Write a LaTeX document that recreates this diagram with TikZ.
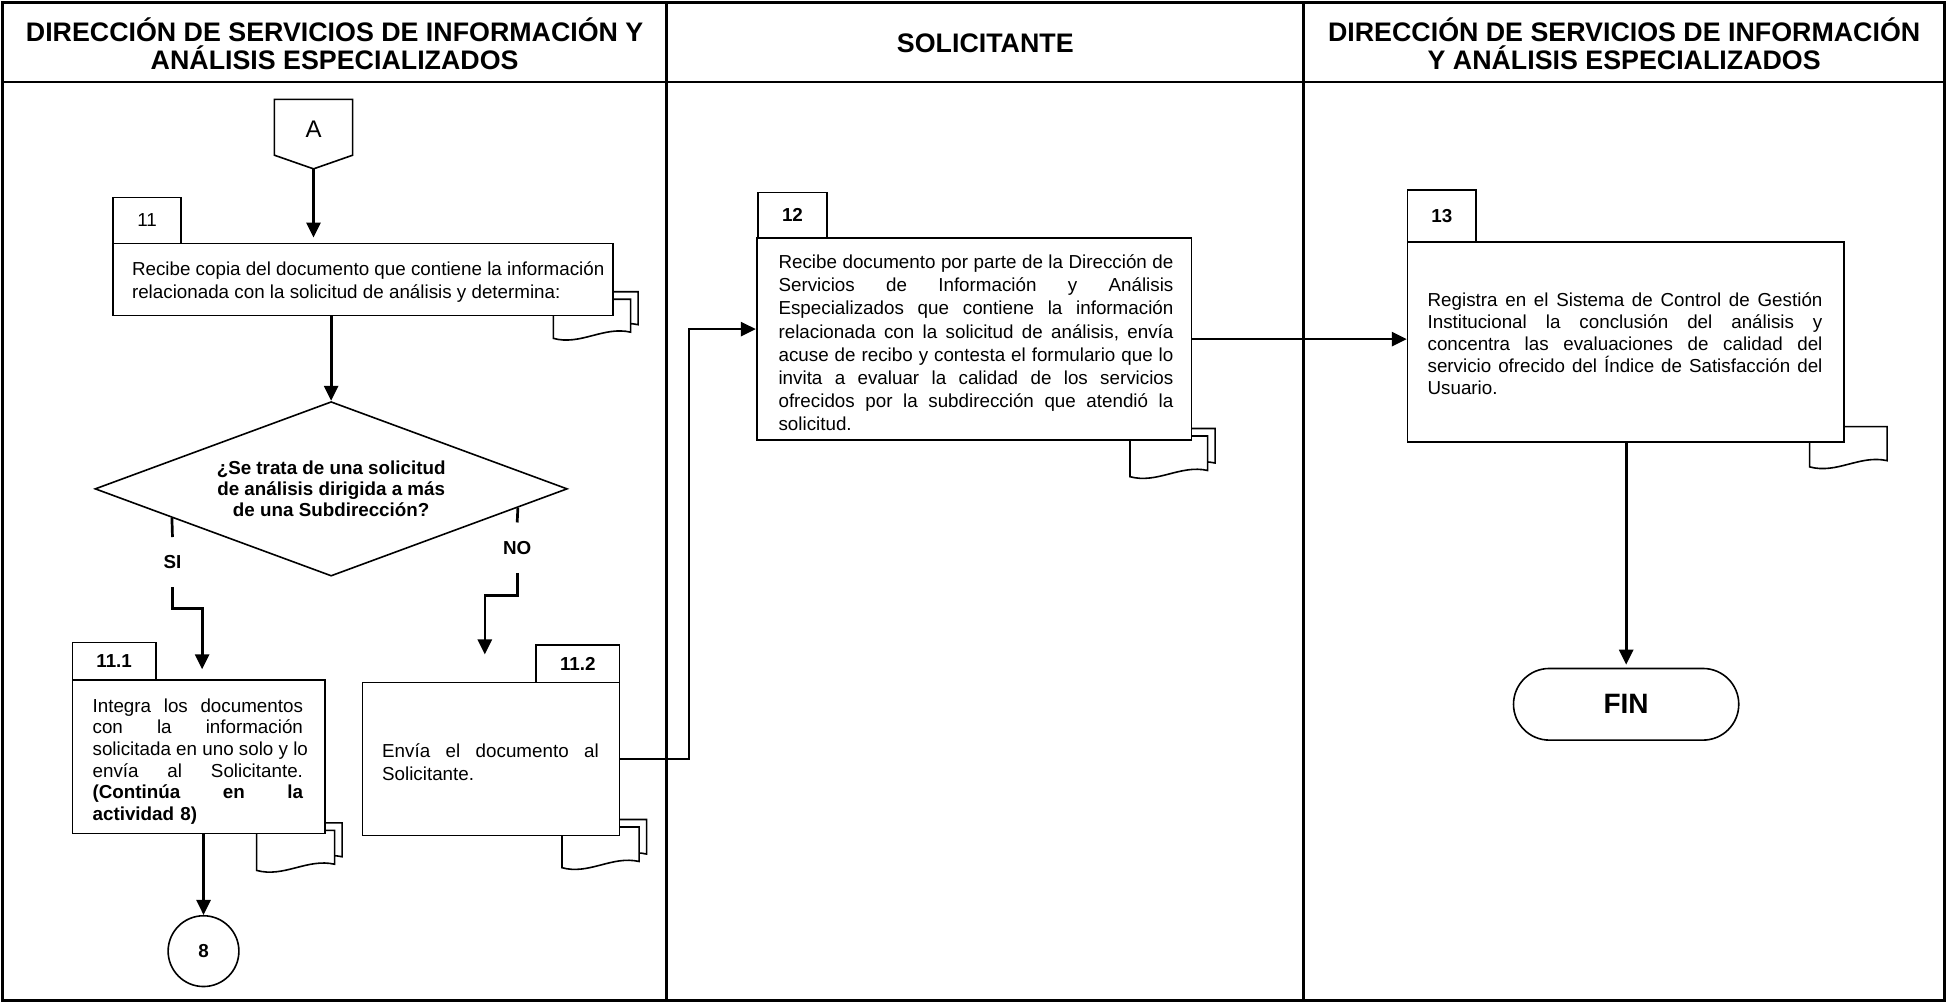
\documentclass[tikz,border=0pt]{standalone}
\usepackage{fontspec}
\setmainfont{Liberation Sans}
\usetikzlibrary{arrows.meta,shapes.geometric,calc}

% one drawing unit
\newcommand\pxu{0.62085pt}
\newcommand\bodysize{\fontsize{9.4}{11.3}\selectfont}
\newcommand\bodyat[1]{\fontsize{9.4}{#1}\selectfont}
\newcommand\hdrsize{\fontsize{13.4}{14.2}\selectfont}
% a justified line of fixed width: the word spaces take up the slack
\newcommand\jl[1]{\par\noindent\hbox to \hsize{\frenchspacing\spaceskip=0.278em plus 1fil\relax #1}\par}
% document sheet with a wavy lower edge: x, y, width, height
\newcommand\docsheet[4]{%
  \path[docline] ({#1},{#2}) -- ({#1+#3},{#2}) -- ({#1+#3},{#2+#4-5})
    .. controls ({#1+0.65*#3},{#2+#4-10}) and ({#1+0.35*#3},{#2+#4+6}) .. ({#1},{#2+#4}) -- cycle;}
% stack of two sheets: front x, y, width, height
\newcommand\docstack[4]{%
  \docsheet{#1+6}{#2-6}{#3}{#4}%
  \docsheet{#1}{#2}{#3}{#4}}

\begin{document}
\begin{tikzpicture}[x=\pxu,y=-\pxu,
  frameline/.style={line width=1.4pt},
  proc/.style={draw, fill=white, line width=0.8pt, inner sep=0pt},
  tabbox/.style={draw, fill=white, line width=0.8pt, inner sep=0pt, font=\bodysize},
  bodytxt/.style={inner sep=0pt, font=\bodysize},
  docline/.style={draw, fill=white, line width=0.8pt},
  conn/.style={line width=1.35pt},
  arr/.style={conn, -{Triangle[length=7.5pt,width=7pt]}},
  hdr/.style={font=\hdrsize\bfseries, align=center, inner sep=0pt},
  lbl/.style={inner sep=0pt, font=\bodysize\bfseries, minimum height=40*\pxu}
]
\useasboundingbox (0,0) rectangle (1568,808);

% swimlane frame
\draw[frameline] (2,2) rectangle (1566,806);
\draw[frameline] (2,66) -- (1566,66);
\draw[frameline] (537,2) -- (537,806);
\draw[frameline] (1050,2) -- (1050,806);

\node[hdr] (h1) at (269.5,35) {DIRECCIÓN DE SERVICIOS DE INFORMACIÓN Y\\ANÁLISIS ESPECIALIZADOS};
\node[hdr] (h2) at (793.5,35) {SOLICITANTE};
\node[hdr] (h3) at (1308,35) {DIRECCIÓN DE SERVICIOS DE INFORMACIÓN\\Y ANÁLISIS ESPECIALIZADOS};

% document symbols behind the activity boxes
\docstack{445.6}{241}{62.3}{31.5}
\docstack{910}{351.1}{62.6}{32.8}
\docsheet{1457.4}{343.6}{62.4}{32.4}
\docstack{206.7}{668.7}{62.8}{32.3}
\docstack{452.6}{666}{62.1}{32.8}

% off-page connector A
\path[proc] (221,80) -- (284,80) -- (284,125) -- (252.5,136) -- (221,125) -- cycle;
\coordinate (Atip) at (252.5,136);
\node[inner sep=0pt, font=\fontsize{12}{14}\selectfont] (Alabel) at (252.5,104) {A};

% activity 11
\node[tabbox, minimum width=55*\pxu, minimum height=37*\pxu] (t11) at (118.5,177.5) {11};
\node[proc, minimum width=402.7*\pxu, minimum height=58.2*\pxu] (b11) at (292.35,225.1) {};
\node[bodytxt, font=\bodyat{11.2pt}, anchor=west, align=left] (x11) at (106,227)
  {Recibe copia del documento que contiene la información\\relacionada con la solicitud de análisis y determina:};

% decision
\node[diamond, draw, fill=white, line width=0.8pt, aspect=2.707, minimum width=380.4*\pxu,
  minimum height=140.5*\pxu, inner sep=0pt, font=\fontsize{9.4}{10.6}\selectfont\bfseries, align=center]
  (dec) at (266.7,393.7) {¿Se trata de una solicitud\\de análisis dirigida a más\\de una Subdirección?};
\coordinate (siStart) at ($(dec.west)!0.328!(dec.south)$);
\coordinate (noStart) at ($(dec.east)!0.212!(dec.south)$);
\node[lbl] (si) at (138.9,452.8) {SI};
\node[lbl] (no) at (416.5,441.1) {NO};
\coordinate (siBend) at (138.9,490);
\coordinate (noBend) at (416.5,479.4);

% activity 11.1
\node[tabbox, font=\bodysize\bfseries, minimum width=67.2*\pxu, minimum height=30.4*\pxu] (t111) at (91.9,532.5) {11.1};
\node[proc, minimum width=203.2*\pxu, minimum height=123.7*\pxu] (b111) at (159.9,609.55) {};
\node[bodytxt, font=\bodyat{10.8pt}, text width=169.4*\pxu] (x111) at (159.3,610)
  {\jl{Integra los documentos}\jl{con la información}\jl{solicitada en uno solo y lo}\jl{envía al Solicitante.}\jl{\bfseries (Continúa en la}\noindent\textbf{actividad 8)}};

% activity 11.2
\node[tabbox, font=\bodysize\bfseries, minimum width=66.9*\pxu, minimum height=30.1*\pxu] (t112) at (465.35,534.55) {11.2};
\node[proc, minimum width=207*\pxu, minimum height=123.1*\pxu] (b112) at (395.3,611.15) {};
\node[bodytxt, font=\bodyat{11.2pt}, text width=174.5*\pxu] (x112) at (395,610.5)
  {\jl{Envía el documento al}\noindent Solicitante.};

% connector 8
\node[circle, draw, line width=0.8pt, minimum size=57*\pxu, inner sep=0pt, font=\bodysize\bfseries] (c8) at (163.9,766) {8};

% activity 12
\node[tabbox, font=\bodysize\bfseries, minimum width=55.2*\pxu, minimum height=36.8*\pxu] (t12) at (638.2,173.4) {12};
\node[proc, minimum width=350.3*\pxu, minimum height=162.6*\pxu] (b12) at (784.55,273.1) {};
\node[bodytxt, font=\bodyat{11.6pt}, text width=318*\pxu] (x12) at (786,272.3)
  {\jl{Recibe documento por parte de la Dirección de}\jl{Servicios de Información y Análisis}\jl{Especializados que contiene la información}\jl{relacionada con la solicitud de análisis, envía}\jl{acuse de recibo y contesta el formulario que lo}\jl{invita a evaluar la calidad de los servicios}\jl{ofrecidos por la subdirección que atendió la}\noindent solicitud.};

% activity 13
\node[tabbox, font=\bodysize\bfseries, minimum width=55*\pxu, minimum height=42*\pxu] (t13) at (1161.1,174) {13};
\node[proc, minimum width=351.2*\pxu, minimum height=160.8*\pxu] (b13) at (1309.2,275.4) {};
\node[bodytxt, font=\bodyat{10.9pt}, text width=318*\pxu] (x13) at (1308.7,273.5)
  {\jl{Registra en el Sistema de Control de Gestión}\jl{Institucional la conclusión del análisis y}\jl{concentra las evaluaciones de calidad del}\jl{servicio ofrecido del Índice de Satisfacción del}\noindent Usuario.};

% end
\node[draw, line width=0.8pt, rounded corners=17.9pt, minimum width=181.4*\pxu, minimum height=57.7*\pxu,
  inner sep=0pt, font=\fontsize{14}{16}\selectfont\bfseries] (fin) at (1309.6,567.2) {FIN};

% connectors
\draw[arr, shorten >=2.5pt] (Atip) -- (Atip |- b11.north);
\draw[arr] (dec.north |- b11.south) -- (dec.north);
\draw[conn] (siStart) -- (si.north);
\draw[arr, shorten >=5pt] (si.south) -- (siBend) -| ([xshift=1.8pt]b111.north);
\draw[conn] (noStart) -- (no.north);
\draw[arr, shorten >=13.6pt] (no.south) -- (noBend) -| ([xshift=-3pt]b112.north);
\draw[arr] (c8.north |- b111.south) -- (c8.north);
\coordinate (jog) at (554.9,0);
\draw[arr] (b112.east) -- (b112.east -| jog) |- ([yshift=5pt]b12.west);
\draw[arr] (b12.east) -- (b12.east -| b13.west);
\draw[arr, shorten >=1.5pt] (fin.north |- b13.south) -- (fin.north);
\end{tikzpicture}
\end{document}
